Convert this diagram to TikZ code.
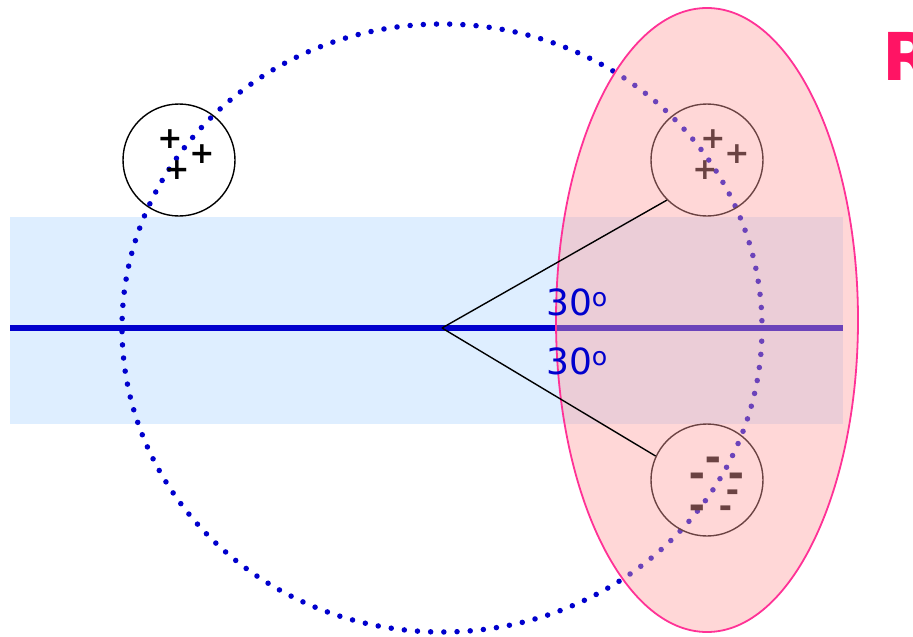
\documentclass[tikz,border=0pt]{standalone}
\usepackage{fontspec}
\setmainfont{DejaVu Sans}
\usetikzlibrary{positioning}
\definecolor{ringblue}{RGB}{0,0,205}
\definecolor{bandblue}{RGB}{222,238,255}
\definecolor{lobefill}{RGB}{255,160,160}
\definecolor{lobeedge}{RGB}{255,50,150}
\definecolor{tagred}{RGB}{255,20,100}
\newsavebox\negglyphbox
\newcommand{\fatdash}{\sbox\negglyphbox{\scalebox{1.15}[1.7]{–}}%
  \raisebox{\dimexpr 0.2em-\ht\negglyphbox\relax}[0.2em][0pt]{\usebox\negglyphbox}}

\begin{document}
\begin{tikzpicture}[x=1pt, y=-1pt,
    dotring/.style={ringblue, line width=5.5pt, line cap=round, dash pattern=on 0pt off 13.2pt},
    charge/.style={circle, draw, line width=1.4pt, minimum size=112pt, inner sep=0pt},
    poschg/.style={font=\fontsize{30}{30}\selectfont\bfseries, inner sep=0pt},
    negchg/.style={font=\fontsize{27}{27}\selectfont\bfseries, inner sep=0pt},
    negsmall/.style={font=\fontsize{22}{22}\selectfont\bfseries, inner sep=0pt},
    lobe/.style={draw=lobeedge, line width=1.8pt, fill=lobefill, fill opacity=0.42},
    ray/.style={line width=1.4pt},
    anglelabel/.style={text=ringblue, font=\fontsize{36}{36}\selectfont, inner sep=0pt}
  ]
  \useasboundingbox (0,0) rectangle (913,637);
  \clip (0,0) rectangle (913,637);

  % Band and axis
  \fill[bandblue] (10,217) rectangle (843,424);
  \coordinate (ctr) at (442,328);
  \coordinate (axisL) at (10,328);
  \coordinate (axisR) at (843,328);
  \draw[ringblue, line width=6pt] (axisL) -- (axisR);

  % Dotted orbit
  \draw[dotring] (ctr) ellipse [x radius=320, y radius=304];

  % Charged spheres
  \node[charge] (c1) at (179,160) {};
  \node[charge] (c2) at (707,160) {};
  \node[charge] (c3) at (707,480) {};

  \node[poschg] (p1) at (170,139) {+};
  \node[poschg] (p2) at (202,154) {+};
  \node[poschg] (p3) at (177,170) {+};

  \node[poschg] (p4) at (713,139) {+};
  \node[poschg] (p5) at (737,154) {+};
  \node[poschg] (p6) at (705,170) {+};

  \node[negchg] (m1) at (713,460) {\fatdash};
  \node[negchg] (m2) at (697,476) {\fatdash};
  \node[negchg] (m3) at (736,476) {\fatdash};
  \node[negsmall] (m4) at (733,492) {\fatdash};
  \node[negchg] (m5) at (697,508) {\fatdash};
  \node[negsmall] (m6) at (726,508) {\fatdash};

  % Shaded region
  \path[lobe] (707,320) ellipse [x radius=151, y radius=312];

  % Rays and angles
  \draw[ray] (ctr) -- (c2.south west);
  \draw[ray] (ctr) -- (c3.155);
  \node[anglelabel] (ang1) at (577,302) {30\textsuperscript{o}};
  \node[anglelabel] (ang2) at (577,361) {30\textsuperscript{o}};

  \node[font=\fontsize{66}{66}\selectfont\bfseries, text=tagred, anchor=west, inner sep=0pt] (tag) at (882,56) {R};
\end{tikzpicture}
\end{document}
